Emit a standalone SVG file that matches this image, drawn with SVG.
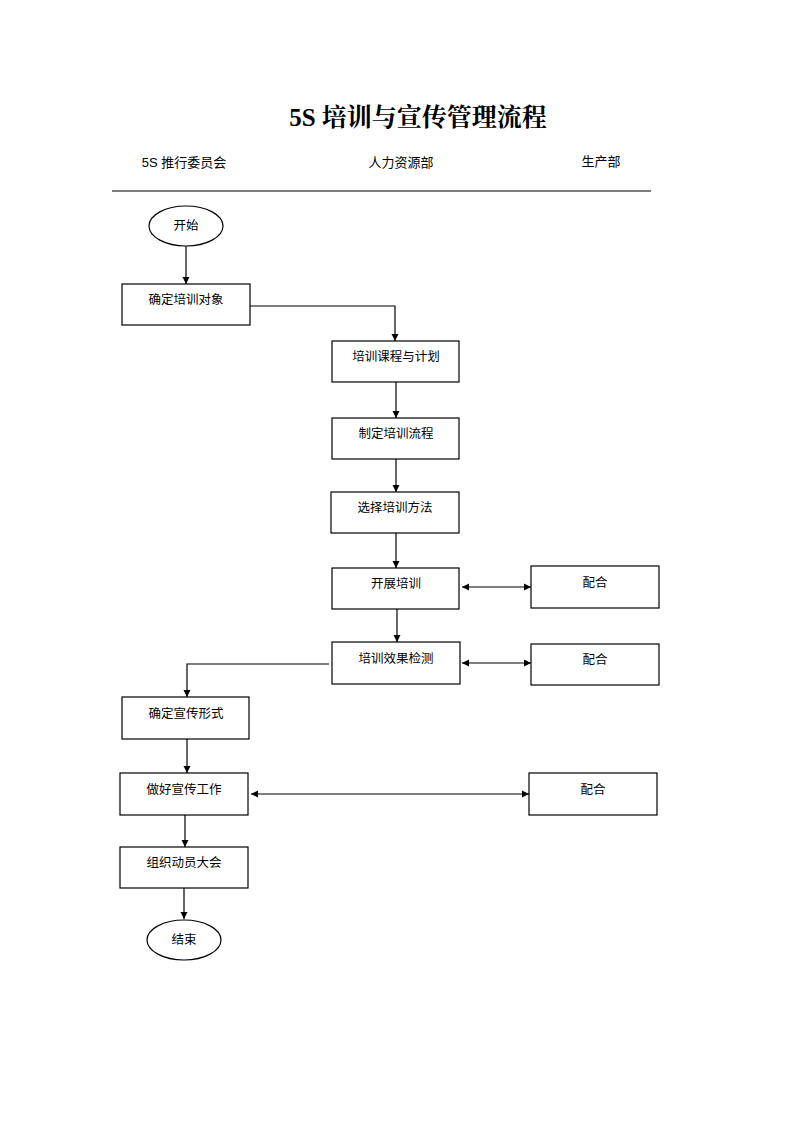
<svg xmlns="http://www.w3.org/2000/svg" width="794" height="1123" viewBox="0 0 794 1123">
<style>
.box{fill:#fff;stroke:#000;stroke-width:1.2}
.t{font-family:"Liberation Sans","Noto Sans CJK SC",sans-serif;font-size:12.5px;fill:#000;text-anchor:middle}
.h{font-family:"Liberation Sans","Noto Sans CJK SC",sans-serif;font-size:13px;fill:#000;text-anchor:middle}
.c{fill:none;stroke:#000;stroke-width:1.2}
</style>
<defs>
<marker id="a" markerWidth="8" markerHeight="8" refX="7" refY="4" orient="auto" markerUnits="userSpaceOnUse">
<path d="M0,0.5 L7,4 L0,7.5 Z" fill="#000"/>
</marker>
<marker id="s" markerWidth="8" markerHeight="8" refX="1" refY="4" orient="auto" markerUnits="userSpaceOnUse">
<path d="M8,0.5 L1,4 L8,7.5 Z" fill="#000"/>
</marker>
</defs>
<rect width="794" height="1123" fill="#fff"/>
<text x="418" y="126" font-family="'Liberation Serif','Noto Serif CJK SC','Noto Sans CJK SC',serif" font-size="25" font-weight="bold" text-anchor="middle">5S 培训与宣传管理流程</text>
<text class="h" x="184" y="167">5S 推行委员会</text>
<text class="h" x="401" y="167">人力资源部</text>
<text class="h" x="601" y="166">生产部</text>
<line x1="112" y1="191" x2="651" y2="191" stroke="#000" stroke-width="1.2"/>
<g id="connectors">
<line class="c" x1="186" y1="246" x2="186" y2="284" marker-end="url(#a)"/>
<polyline class="c" points="250,306 395,306 395,341" marker-end="url(#a)"/>
<line class="c" x1="396" y1="382" x2="396" y2="418" marker-end="url(#a)"/>
<line class="c" x1="396" y1="459" x2="396" y2="492" marker-end="url(#a)"/>
<line class="c" x1="396" y1="533" x2="396" y2="568" marker-end="url(#a)"/>
<line class="c" x1="462" y1="587" x2="531" y2="587" marker-start="url(#s)" marker-end="url(#a)"/>
<line class="c" x1="397" y1="609" x2="397" y2="642" marker-end="url(#a)"/>
<polyline class="c" points="329,664 187,664 187,697" marker-end="url(#a)"/>
<line class="c" x1="462" y1="663" x2="531" y2="663" marker-start="url(#s)" marker-end="url(#a)"/>
<line class="c" x1="187" y1="739" x2="187" y2="773" marker-end="url(#a)"/>
<line class="c" x1="251" y1="794" x2="529" y2="794" marker-start="url(#s)" marker-end="url(#a)"/>
<line class="c" x1="185" y1="815" x2="185" y2="847" marker-end="url(#a)"/>
<line class="c" x1="184" y1="888" x2="184" y2="919" marker-end="url(#a)"/>
</g>
<g id="start"><ellipse class="box" cx="186" cy="226" rx="37" ry="20"/><text class="t" x="186" y="230">开始</text></g>
<g id="n1"><rect class="box" x="122" y="284" width="128" height="41"/><text class="t" x="186" y="304">确定培训对象</text></g>
<g id="n2"><rect class="box" x="332" y="341" width="127" height="41"/><text class="t" x="396" y="361">培训课程与计划</text></g>
<g id="n3"><rect class="box" x="332" y="418" width="127" height="41"/><text class="t" x="396" y="438">制定培训流程</text></g>
<g id="n4"><rect class="box" x="331" y="492" width="128" height="41"/><text class="t" x="395" y="512">选择培训方法</text></g>
<g id="n5"><rect class="box" x="332" y="568" width="127" height="41"/><text class="t" x="396" y="588">开展培训</text></g>
<g id="p1"><rect class="box" x="531" y="566" width="128" height="42"/><text class="t" x="595" y="587">配合</text></g>
<g id="n6"><rect class="box" x="332" y="642" width="128" height="42"/><text class="t" x="396" y="663">培训效果检测</text></g>
<g id="p2"><rect class="box" x="531" y="644" width="128" height="41"/><text class="t" x="595" y="664">配合</text></g>
<g id="n7"><rect class="box" x="122" y="697" width="127" height="42"/><text class="t" x="186" y="718">确定宣传形式</text></g>
<g id="n8"><rect class="box" x="120" y="773" width="128" height="42"/><text class="t" x="184" y="794">做好宣传工作</text></g>
<g id="p3"><rect class="box" x="529" y="773" width="128" height="42"/><text class="t" x="593" y="794">配合</text></g>
<g id="n9"><rect class="box" x="120" y="847" width="128" height="41"/><text class="t" x="184" y="867">组织动员大会</text></g>
<g id="end"><ellipse class="box" cx="184" cy="940" rx="37" ry="20"/><text class="t" x="184" y="944">结束</text></g>
</svg>
